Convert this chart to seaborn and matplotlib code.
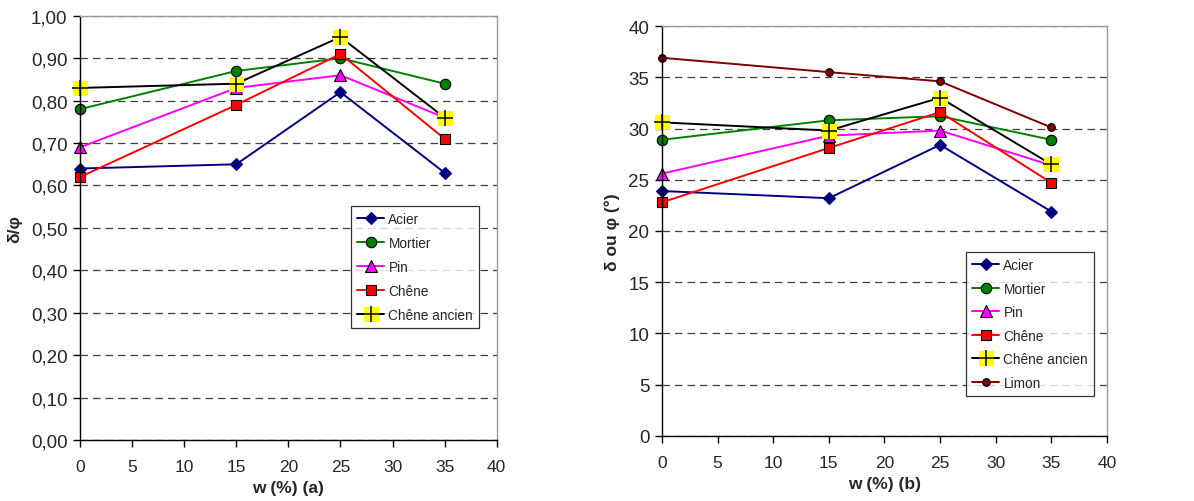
import matplotlib
matplotlib.use("Agg")
import matplotlib.pyplot as plt
from matplotlib.ticker import FuncFormatter, MultipleLocator
from matplotlib.legend_handler import HandlerTuple
import seaborn as sns

# water content (%)
w = [0, 15, 25, 35]

# (a) delta / phi ratio
ratio_acier = [0.64, 0.65, 0.82, 0.63]
ratio_mortier = [0.78, 0.87, 0.90, 0.84]
ratio_pin = [0.69, 0.83, 0.86, 0.76]
ratio_chene = [0.62, 0.79, 0.91, 0.71]
ratio_chene_ancien = [0.83, 0.84, 0.95, 0.76]

# (b) angles in degrees
ang_acier = [23.9, 23.2, 28.4, 21.9]
ang_mortier = [28.9, 30.8, 31.2, 28.9]
ang_pin = [25.6, 29.3, 29.8, 26.4]
ang_chene = [22.8, 28.1, 31.6, 24.7]
ang_chene_ancien = [30.6, 29.8, 33.0, 26.5]
ang_limon = [36.9, 35.5, 34.6, 30.1]

labels = ["Acier", "Mortier", "Pin", "Chêne", "Chêne ancien", "Limon"]

sns.set_style("white")
plt.rcParams["font.family"] = ["Liberation Sans", "DejaVu Sans"]

styles = {
    "Acier": dict(color="#000080", marker="D", ms=6.5, mfc="#000080", mec="#000080"),
    "Mortier": dict(color="#008000", marker="o", ms=7.5, mfc="#008000", mec="black"),
    "Pin": dict(color="#FF00FF", marker="^", ms=8, mfc="#FF00FF", mec="black"),
    "Chêne": dict(color="#FF0000", marker="s", ms=7.5, mfc="#FF0000", mec="black"),
    "Limon": dict(color="#800000", marker="o", ms=5.5, mfc="#800000", mec="black"),
}


def draw_series(ax, y, name):
    if name == "Chêne ancien":
        sns.lineplot(x=w, y=y, ax=ax, color="black", lw=1.4, marker="s",
                     markersize=10, markerfacecolor="#FFFF00", markeredgecolor="#FFFF00",
                     clip_on=False)
        line = ax.lines[-1]
        plus, = ax.plot(w, y, ls="none", marker="+", ms=11, mew=1.1, color="black",
                        clip_on=False)
        return (line, plus)
    st = styles[name]
    sns.lineplot(x=w, y=y, ax=ax, color=st["color"], lw=1.4, marker=st["marker"],
                 markersize=st["ms"], markerfacecolor=st["mfc"],
                 markeredgecolor=st["mec"], markeredgewidth=0.8, clip_on=False)
    return ax.lines[-1]


def style_axes(ax):
    ax.set_xlim(0, 40)
    ax.xaxis.set_major_locator(MultipleLocator(5))
    ax.grid(axis="y", color="#404040", ls=(0, (6, 4)), lw=0.9)
    ax.grid(axis="x", visible=False)
    for s in ["left", "bottom"]:
        ax.spines[s].set_color("black")
        ax.spines[s].set_linewidth(1.0)
    for s in ["top", "right"]:
        ax.spines[s].set_color("#9a9a9a")
        ax.spines[s].set_linewidth(1.0)
    ax.tick_params(axis="both", direction="out", length=5, width=1, color="black",
                   bottom=True, left=True)
    ax.tick_params(axis="y", labelsize=13.5, pad=4)
    ax.tick_params(axis="x", labelsize=12.5, pad=9)


fig = plt.figure(figsize=(11.94, 5.02), dpi=100)
ax1 = fig.add_axes([0.067, 0.1215, 0.349, 0.845])
ax2 = fig.add_axes([0.5544, 0.1295, 0.3727, 0.8167])

legend_kw = dict(loc="upper left", fontsize=9.8, frameon=True, fancybox=False,
                 edgecolor="black", handlelength=2.0, handletextpad=0.3,
                 borderpad=0.45, borderaxespad=0,
                 handler_map={tuple: HandlerTuple(ndivide=1)})

# panel (a)
h1 = []
for y, name in zip([ratio_acier, ratio_mortier, ratio_pin, ratio_chene, ratio_chene_ancien], labels[:5]):
    h1.append(draw_series(ax1, y, name))
style_axes(ax1)
ax1.set_ylim(0, 1.0)
ax1.yaxis.set_major_locator(MultipleLocator(0.1))
ax1.yaxis.set_major_formatter(FuncFormatter(lambda v, p: f"{v:.2f}".replace(".", ",")))
ax1.set_xlabel("w (%) (a)", fontsize=12.5, fontweight="bold", labelpad=4)
ax1.set_ylabel("δ/φ", fontsize=12.5, fontweight="bold", labelpad=6)
leg1 = fig.legend(h1, labels[:5], bbox_to_anchor=(0.294, 0.588),
                  labelspacing=0.74, **legend_kw)
leg1.get_frame().set_linewidth(0.9)

# panel (b)
h2 = []
for y, name in zip([ang_acier, ang_mortier, ang_pin, ang_chene, ang_chene_ancien, ang_limon], labels):
    h2.append(draw_series(ax2, y, name))
style_axes(ax2)
ax2.set_ylim(0, 40)
ax2.yaxis.set_major_locator(MultipleLocator(5))
ax2.set_xlabel("w (%) (b)", fontsize=12.5, fontweight="bold", labelpad=4)
ax2.set_ylabel("δ ou φ (°)", fontsize=12.5, fontweight="bold", labelpad=6)
leg2 = fig.legend(h2, labels, bbox_to_anchor=(0.809, 0.496),
                  labelspacing=0.70, **legend_kw)
leg2.get_frame().set_linewidth(0.9)

for ax in (ax1, ax2):
    if ax.get_legend() is not None:
        ax.get_legend().remove()

fig.savefig("out.png", dpi=100)
